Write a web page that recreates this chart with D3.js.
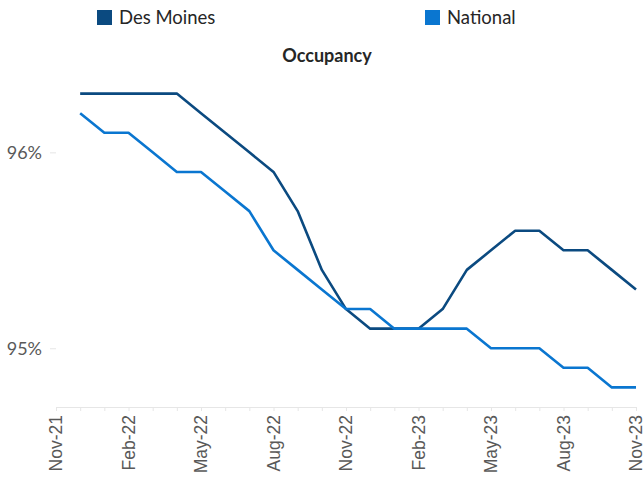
<!DOCTYPE html>
<html>
<head>
<meta charset="utf-8">
<script src="https://cdn.jsdelivr.net/npm/d3@7"></script>
<style>
  body { margin: 0; background: #fff; }
  svg { display: block; }
  .tick text { font-family: "Liberation Sans", Arial, sans-serif; }
</style>
</head>
<body>
<div id="chart"></div>
<script>
// months on the axis, Nov-21 .. Nov-23
const months = ["Nov-21","Dec-21","Jan-22","Feb-22","Mar-22","Apr-22","May-22","Jun-22","Jul-22",
                "Aug-22","Sep-22","Oct-22","Nov-22","Dec-22","Jan-23","Feb-23","Mar-23","Apr-23",
                "May-23","Jun-23","Jul-23","Aug-23","Sep-23","Oct-23","Nov-23"];
const labelMonths = ["Nov-21","Feb-22","May-22","Aug-22","Nov-22","Feb-23","May-23","Aug-23","Nov-23"];

// occupancy in %, starting Dec-21
const dataMonths = months.slice(1);
const desMoines = [96.3,96.3,96.3,96.3,96.3,96.2,96.1,96.0,95.9,95.7,95.4,95.2,
                   95.1,95.1,95.1,95.2,95.4,95.5,95.6,95.6,95.5,95.5,95.4,95.3];
const national  = [96.2,96.1,96.1,96.0,95.9,95.9,95.8,95.7,95.5,95.4,95.3,95.2,
                   95.2,95.1,95.1,95.1,95.1,95.0,95.0,95.0,94.9,94.9,94.8,94.8];
const yTicks = [95, 96];

const seriesList = [
    {name: "Des Moines", values: desMoines, color: "#0b4a80"},
    {name: "National",   values: national,  color: "#0a76d0"}
];

const width = 644, height = 480;
const margin = {top: 74, right: 8, bottom: 73, left: 56};

const svg = d3.select("#chart").append("svg")
    .attr("width", width)
    .attr("height", height);

let xScale = d3.scalePoint()
    .domain(months)
    .range([margin.left, width - margin.right]);

let yScale = d3.scaleLinear()
    .domain([94.7, 96.4])
    .range([height - margin.bottom, margin.top]);

// x axis, a tick every month, a label every quarter
let xAxis = svg.append("g")
    .attr("transform", "translate(0," + (height - margin.bottom) + ")")
    .call(d3.axisBottom(xScale).tickSize(4).tickSizeOuter(0)
        .tickFormat(d => labelMonths.includes(d) ? d : ""));
xAxis.select(".domain").attr("stroke", "#e6e6e6");
xAxis.selectAll(".tick line").attr("stroke", "#e6e6e6");
xAxis.selectAll(".tick text")
    .attr("fill", "#595959")
    .style("font-size", "17.5px")
    .style("text-anchor", "end")
    .attr("transform", "rotate(-90)")
    .attr("x", -8)
    .attr("y", 0)
    .attr("dy", "0.32em");

// y axis
let yAxis = svg.append("g")
    .attr("transform", "translate(" + (margin.left - 6) + ",0)")
    .call(d3.axisLeft(yScale).tickValues(yTicks).tickSize(-6).tickFormat(d => d + "%"));
yAxis.select(".domain").remove();
yAxis.selectAll(".tick line").attr("stroke", "#e6e6e6");
yAxis.selectAll(".tick text")
    .attr("fill", "#595959")
    .attr("x", -8)
    .style("font-family", "Lato, 'Open Sans', sans-serif")
    .style("font-size", "18px");

// lines, national drawn last so it sits on top
let lineGen = d3.line()
    .x((d, i) => xScale(dataMonths[i]))
    .y(d => yScale(d));

svg.selectAll("path.series").data(seriesList)
    .enter().append("path")
    .attr("class", "series")
    .attr("fill", "none")
    .attr("stroke", d => d.color)
    .attr("stroke-width", 2.6)
    .attr("stroke-linejoin", "round")
    .attr("d", d => lineGen(d.values));

// title
svg.append("text")
    .attr("x", 327)
    .attr("y", 62)
    .attr("text-anchor", "middle")
    .attr("fill", "#262626")
    .style("font-family", "Lato, 'Open Sans', sans-serif")
    .style("font-weight", "bold")
    .style("font-size", "18px")
    .text("Occupancy");

// legend
let legendX = [97, 425];
let legend = svg.selectAll("g.legend").data(seriesList)
    .enter().append("g")
    .attr("class", "legend")
    .attr("transform", (d, i) => "translate(" + legendX[i] + ",10)");
legend.append("rect")
    .attr("width", 15).attr("height", 15)
    .attr("fill", d => d.color);
legend.append("text")
    .attr("x", 22).attr("y", 14)
    .attr("fill", "#262626")
    .style("font-family", "Lato, 'Open Sans', sans-serif")
    .style("font-size", "18.5px")
    .text(d => d.name);
</script>
</body>
</html>
